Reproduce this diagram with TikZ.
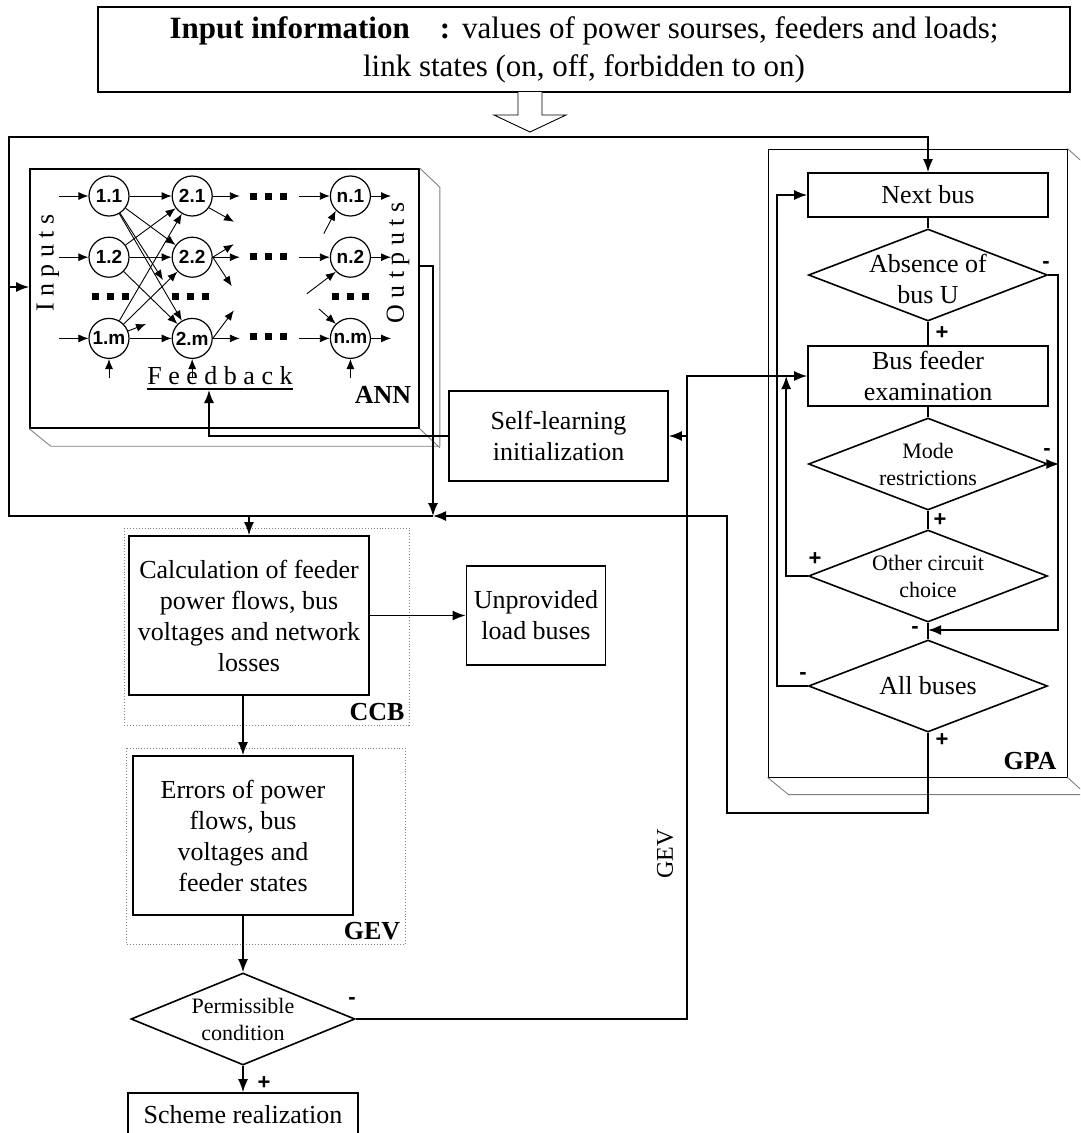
\documentclass[tikz,border=0pt]{standalone}
\usepackage{fontspec}
\setmainfont{Liberation Serif}
\setsansfont{Liberation Sans}
\usetikzlibrary{arrows.meta, shapes.geometric, positioning}
\newcommand{\sqdots}{\rule{7pt}{7pt}\hspace{8pt}\rule{7pt}{7pt}\hspace{8pt}\rule{7pt}{7pt}}
\tikzset{
    >={Latex[length=13pt,width=10pt]}, % solid arrow heads
    block/.style={draw, rectangle, align=center, inner sep=2pt, font=\fontsize{26}{31}\selectfont}, % plain boxes
    decision/.style={draw, diamond, minimum width=239pt, minimum height=92pt, inner sep=0pt}, % text goes in a label
    dectext/.style={align=center, font=\fontsize{26}{31}\selectfont},
    smalltext/.style={align=center, font=\fontsize{22}{27}\selectfont},
    neuron/.style={draw, circle, minimum size=40pt, inner sep=0pt, line width=1.2pt, font=\sffamily\bfseries\fontsize{19}{19}\selectfont},
    syn/.style={-{Latex[length=10pt,width=8pt]}, line width=0.9pt}, % links inside the net
    sign/.style={font=\sffamily\bfseries\fontsize{22}{22}\selectfont, inner sep=0pt},
    tag/.style={font=\bfseries\fontsize{26}{26}\selectfont, inner sep=0pt},
    spaced/.style={font=\fontsize{26}{26}\selectfont, inner sep=0pt},
    frame/.style={draw=gray, line width=0.9pt},
    zone/.style={draw=gray, dotted, line width=0.9pt},
}

\begin{document}
\begin{tikzpicture}[x=1pt, y=-1pt, line width=1.6pt]
    \useasboundingbox (0,0) rectangle (1080,1133);
    \clip (0,0) rectangle (1080,1133);

    % input data
    \node[block, minimum width=972pt, minimum height=85pt, font=\fontsize{31}{38}\selectfont] (info) at (584,49.5)
        {\textbf{Input information}\hspace{30pt}\textbf{:}\hspace{12pt}values of power sourses, feeders and loads;\\link states (on, off, forbidden to on)};
    \draw[line width=0.9pt, fill=white] (518,92) -- (518,115) -- (494,115) -- (530,132) -- (566,115) -- (542,115) -- (542,92);

    % ANN block
    \node[draw, minimum width=389pt, minimum height=259pt, inner sep=0pt] (ann) at (224.5,298.5) {};
    \draw[frame] (ann.north east) -- ++(20,19) -- ++(0,259) -- ++(-389,0) -- (ann.south west);
    \draw[frame] (ann.south east) -- ++(20,19);

    \node[neuron] (n11) at (109,196) {1.1};
    \node[neuron, below=20pt of n11] (n12) {1.2};
    \node[neuron, below=40pt of n12] (n1m) {1.m};
    \node[neuron, right=42pt of n11] (n21) {2.1};
    \node[neuron, right=42pt of n12] (n22) {2.2};
    \node[neuron, right=42pt of n1m] (n2m) {2.m};
    \node[neuron, right=117pt of n21] (nn1) {n.1};
    \node[neuron, right=117pt of n22] (nn2) {n.2};
    \node[neuron, right=117pt of n2m] (nnm) {n.m};

    \node[inner sep=0pt] (d1) at (268,196) {\sqdots};
    \node[inner sep=0pt] (d2) at (268,256) {\sqdots};
    \node[inner sep=0pt] (d3) at (268,336) {\sqdots};
    \node[inner sep=0pt] (c1) at (110,296) {\sqdots};
    \node[inner sep=0pt] (c2) at (190,296) {\sqdots};
    \node[inner sep=0pt] (c3) at (350,296) {\sqdots};

    \draw[syn] ([xshift=-29pt]n11.west) -- (n11.west);
    \draw[syn] ([xshift=-29pt]n12.west) -- (n12.west);
    \draw[syn] ([xshift=-29pt]n1m.west) -- (n1m.west);
    \draw[syn] (n11) edge (n21) (n11) edge (n22) (n11) edge (n2m)
               (n12) edge (n21) (n12) edge (n22) (n12) edge (n2m)
               (n1m) edge (n21) (n1m) edge (n22) (n1m) edge (n2m)
               (n11) edge (163,280) (n1m) edge (146,324);
    \draw[syn] (n21.east) -- +(27,0);
    \draw[syn] (n21.-35) -- +(25,14);
    \draw[syn] (n22.east) -- +(21,-13);
    \draw[syn] (n22.east) -- +(27,0);
    \draw[syn] (n22.east) -- +(19,29);
    \draw[syn] (n2m.east) -- +(21,-28);
    \draw[syn] (n2m.east) -- +(27,0);
    \draw[syn] ([xshift=-31pt]nn1.west) -- (nn1.west);
    \draw[syn] ([xshift=-31pt]nn2.west) -- (nn2.west);
    \draw[syn] ([xshift=-31pt]nnm.west) -- (nnm.west);
    \draw[syn] ([shift={(-12,23)}]nn1.south west) -- (nn1.south west);
    \draw[syn] ([shift={(-29,22)}]nn2.south west) -- (nn2.south west);
    \draw[syn] ([shift={(-17,-15)}]nnm.north west) -- (nnm.north west);
    \draw[syn] (nn1.east) -- +(20,0);
    \draw[syn] (nn2.east) -- +(20,0);
    \draw[syn] (nnm.east) -- +(20,0);
    \draw[syn] ([yshift=-19pt]n1m.south) -- (n1m.south);
    \draw[syn] ([yshift=-19pt]n2m.south) -- (n2m.south);
    \draw[syn] ([yshift=-19pt]nnm.south) -- (nnm.south);

    \node[spaced, rotate=90] (inputs) at (48,263) {I n p u t s};
    \node[spaced, rotate=90] (outputs) at (398,263) {O u t p u t s};
    \node[spaced] (fb) at (220,376) {F e e d b a c k};
    \draw[line width=2pt] ([yshift=-4pt]fb.base west) -- ([yshift=-4pt]fb.base east);
    \node[tag] (anntag) at (383,395) {ANN};

    % GPA block
    \node[draw, line width=0.9pt, minimum width=299pt, minimum height=628pt, inner sep=0pt] (gpa) at (917.5,463) {};
    \draw[frame] (gpa.north east) -- ++(20,18) -- ++(0,628) -- ++(-299,0) -- (gpa.south west);
    \draw[frame] (gpa.south east) -- ++(20,18);

    \node[block, minimum width=240pt, minimum height=44pt] (nextbus) at (928,195) {Next bus};
    \node[decision, label={[dectext, yshift=-4pt]center:Absence of\\bus U}] (absence) at (928,275) {};
    \node[block, minimum width=240pt, minimum height=60pt] (busfeeder) at (928,376) {Bus feeder\\examination};
    \node[decision, label={[smalltext]center:Mode\\restrictions}] (mode) at (928,464) {};
    \node[decision, label={[smalltext]center:Other circuit\\choice}] (other) at (928,576) {};
    \node[decision, label={[dectext]center:All buses}] (allbus) at (928,686) {};
    \node[tag] (gpatag) at (1030,761) {GPA};

    % other blocks
    \node[block, minimum width=219pt, minimum height=90pt] (self) at (558.5,436) {Self-learning\\initialization};
    \node[block, minimum width=240pt, minimum height=159pt] (ccb) at (249,615.5) {Calculation of feeder\\power flows, bus\\voltages and network\\losses};
    \node[block, minimum width=139pt, minimum height=99pt] (unprov) at (536,615.5) {Unprovided\\load buses};
    \node[block, minimum width=220pt, minimum height=159pt] (gevbox) at (243,835.5) {Errors of power\\flows, bus\\voltages and\\feeder states};
    \node[decision, minimum width=224pt, label={[smalltext]center:Permissible\\condition}] (perm) at (243,1019) {};
    \node[block, minimum width=230pt, minimum height=44pt] (scheme) at (243,1115) {Scheme realization};

    \draw[zone] (124,528) rectangle (409,725);
    \draw[zone] (126,748) rectangle (405,944);
    \node[tag] (ccbtag) at (377,712) {CCB};
    \node[tag] (gevtag) at (372,931) {GEV};
    \node[font=\fontsize{24}{24}\selectfont, rotate=90] (gevside) at (665,854) {GEV};

    % connectors
    \coordinate (mix) at (433,516);
    \coordinate (top) at (928,137);
    \coordinate (loopL) at (9,287);
    \coordinate (join) at (928,630);
    \coordinate (split) at (688,436);

    \draw[->] (mix) -- (9,516) |- (top) -- (nextbus.north);
    \draw[->] (loopL) -- (loopL -| ann.west);
    \draw[->] ([yshift=32.5pt]ann.east) -| (mix);
    \draw[->] (self.west) -| (209,390);

    \draw (nextbus) -- (absence);
    \draw (absence) -- (busfeeder);
    \draw (busfeeder) -- (mode);
    \draw (mode) -- (other);
    \draw (other) -- (allbus);
    \draw[->] (absence.east) -- (1058,275) |- (join);
    \draw[->] (mode.east) -- ++(11,0);
    \draw[->] (other.west) -| ([xshift=-21pt]busfeeder.west);
    \draw[->] (allbus.west) -| ([xshift=-30pt]nextbus.west) -- (nextbus.west);
    \draw[->] (allbus.south) -- (928,813) -| (727,516) -- (mix);

    \draw[->] (perm.east) -| ([xshift=-120pt]busfeeder.west) -- (busfeeder.west);
    \draw[->] (split) -- (self);

    \draw[->] (ccb.north |- mix) -- (ccb.north);
    \draw[->] (ccb) -- (unprov);
    \draw[->] (ccb.south -| gevbox.north) -- (gevbox.north);
    \draw[->] (gevbox) -- (perm);
    \draw[->] (perm) -- (scheme);

    % branch signs
    \node[sign] at (1046,265) {-};
    \node[sign] at (942,333) {+};
    \node[sign] at (1047,452) {-};
    \node[sign] at (940,520) {+};
    \node[sign] at (815,559) {+};
    \node[sign] at (915,630) {-};
    \node[sign] at (803,676) {-};
    \node[sign] at (942,740) {+};
    \node[sign] at (352,1001) {-};
    \node[sign] at (264,1083) {+};
\end{tikzpicture}
\end{document}
